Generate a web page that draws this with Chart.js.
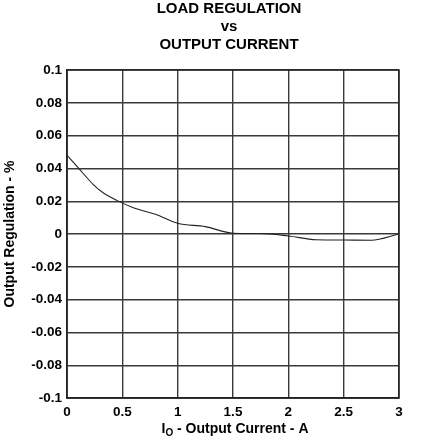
<!DOCTYPE html>
<html><head><meta charset="utf-8">
<script src="https://cdn.jsdelivr.net/npm/chart.js@4"></script>
<style>html,body{margin:0;padding:0;background:#fff}#wrap{width:421px;height:446px}</style>
</head><body><div id="wrap"><canvas id="c" width="421" height="446"></canvas></div>
<script>
const titleLines = ["LOAD REGULATION", "vs", "OUTPUT CURRENT"];
const xValues = [0, 0.1, 0.24, 0.33, 0.45, 0.6, 0.8, 1.0, 1.25, 1.5, 1.75, 2.0, 2.25, 2.5, 2.75, 3.0];
const yValues = [0.048, 0.0405, 0.030, 0.025, 0.0205, 0.016, 0.012, 0.0065, 0.0045, 0.0005, 0.0003, -0.0012, -0.0035, -0.0037, -0.0038, 0.0];
const xTickLabels = ["0", "0.5", "1", "1.5", "2", "2.5", "3"];
const yTickLabels = ["-0.1", "-0.08", "-0.06", "-0.04", "-0.02", "0", "0.02", "0.04", "0.06", "0.08", "0.1"];
const yAxisTitle = "Output Regulation - %";
const xAxisTitleMain = "I";
const xAxisTitleSub = "O";
const xAxisTitleRest = " - Output Current - A";

const FONT = "'Liberation Sans', Arial, sans-serif";

const textPlugin = {
  id: 'texts',
  afterDraw(chart) {
    const ctx = chart.ctx;
    ctx.save();
    ctx.fillStyle = '#000';
    ctx.textAlign = 'center';
    ctx.textBaseline = 'middle';
    ctx.font = 'bold 15px ' + FONT;
    titleLines.forEach((t, i) => ctx.fillText(t, 229, 9 + i * 18));
    // x axis title with subscript
    ctx.font = 'bold 14px ' + FONT;
    const wMain = ctx.measureText(xAxisTitleMain).width;
    const wRest = ctx.measureText(xAxisTitleRest).width;
    ctx.font = 'bold 10px ' + FONT;
    const wSub = ctx.measureText(xAxisTitleSub).width;
    const total = wMain + wSub + wRest;
    let x = 235 - total / 2;
    const y = 429;
    ctx.textAlign = 'left';
    ctx.font = 'bold 14px ' + FONT;
    ctx.fillText(xAxisTitleMain, x, y);
    x += wMain;
    ctx.font = 'bold 10px ' + FONT;
    ctx.fillText(xAxisTitleSub, x, y + 4);
    x += wSub;
    ctx.font = 'bold 14px ' + FONT;
    ctx.fillText(xAxisTitleRest, x, y);
    ctx.restore();
  }
};

new Chart(document.getElementById('c'), {
  type: 'line',
  data: {
    datasets: [{
      data: xValues.map((x, i) => ({x: x, y: yValues[i]})),
      borderColor: '#222',
      borderWidth: 1.1,
      pointRadius: 0,
      fill: false,
      cubicInterpolationMode: 'monotone'
    }]
  },
  options: {
    responsive: false,
    animation: false,
    devicePixelRatio: 1,
    layout: {padding: {top: 70, right: 22, left: 0, bottom: 0}},
    plugins: {legend: {display: false}, tooltip: {enabled: false}, title: {display: false}},
    scales: {
      x: {
        type: 'linear', min: 0, max: 3,
        ticks: {stepSize: 0.5, autoSkip: false, maxRotation: 0, padding: 6,
          color: '#000', font: {family: FONT, size: 13.5, weight: 'bold'},
          callback: (v, i) => xTickLabels[i]},
        grid: {color: '#3a3a3a', lineWidth: 1.4, drawTicks: false},
        border: {color: '#222', width: 1.4},
        afterFit: s => { s.height = 48; }
      },
      y: {
        type: 'linear', min: -0.1, max: 0.1,
        ticks: {stepSize: 0.02, autoSkip: false, padding: 5,
          color: '#000', font: {family: FONT, size: 13.5, weight: 'bold'},
          callback: (v, i) => yTickLabels[i]},
        grid: {color: '#3a3a3a', lineWidth: 1.4, drawTicks: false},
        border: {color: '#222', width: 1.4},
        title: {display: true, text: yAxisTitle, color: '#000', padding: {top: 2, bottom: 0},
          font: {family: FONT, size: 14, weight: 'bold'}},
        afterFit: s => { s.width = 67; }
      }
    }
  },
  plugins: [textPlugin, {
    id: 'frame',
    afterDatasetsDraw(chart) {
      const ctx = chart.ctx, ca = chart.chartArea;
      ctx.save();
      ctx.strokeStyle = '#222';
      ctx.lineWidth = 1.4;
      ctx.strokeRect(ca.left, ca.top, ca.right - ca.left, ca.bottom - ca.top);
      ctx.restore();
    }
  }]
});
</script></body></html>
